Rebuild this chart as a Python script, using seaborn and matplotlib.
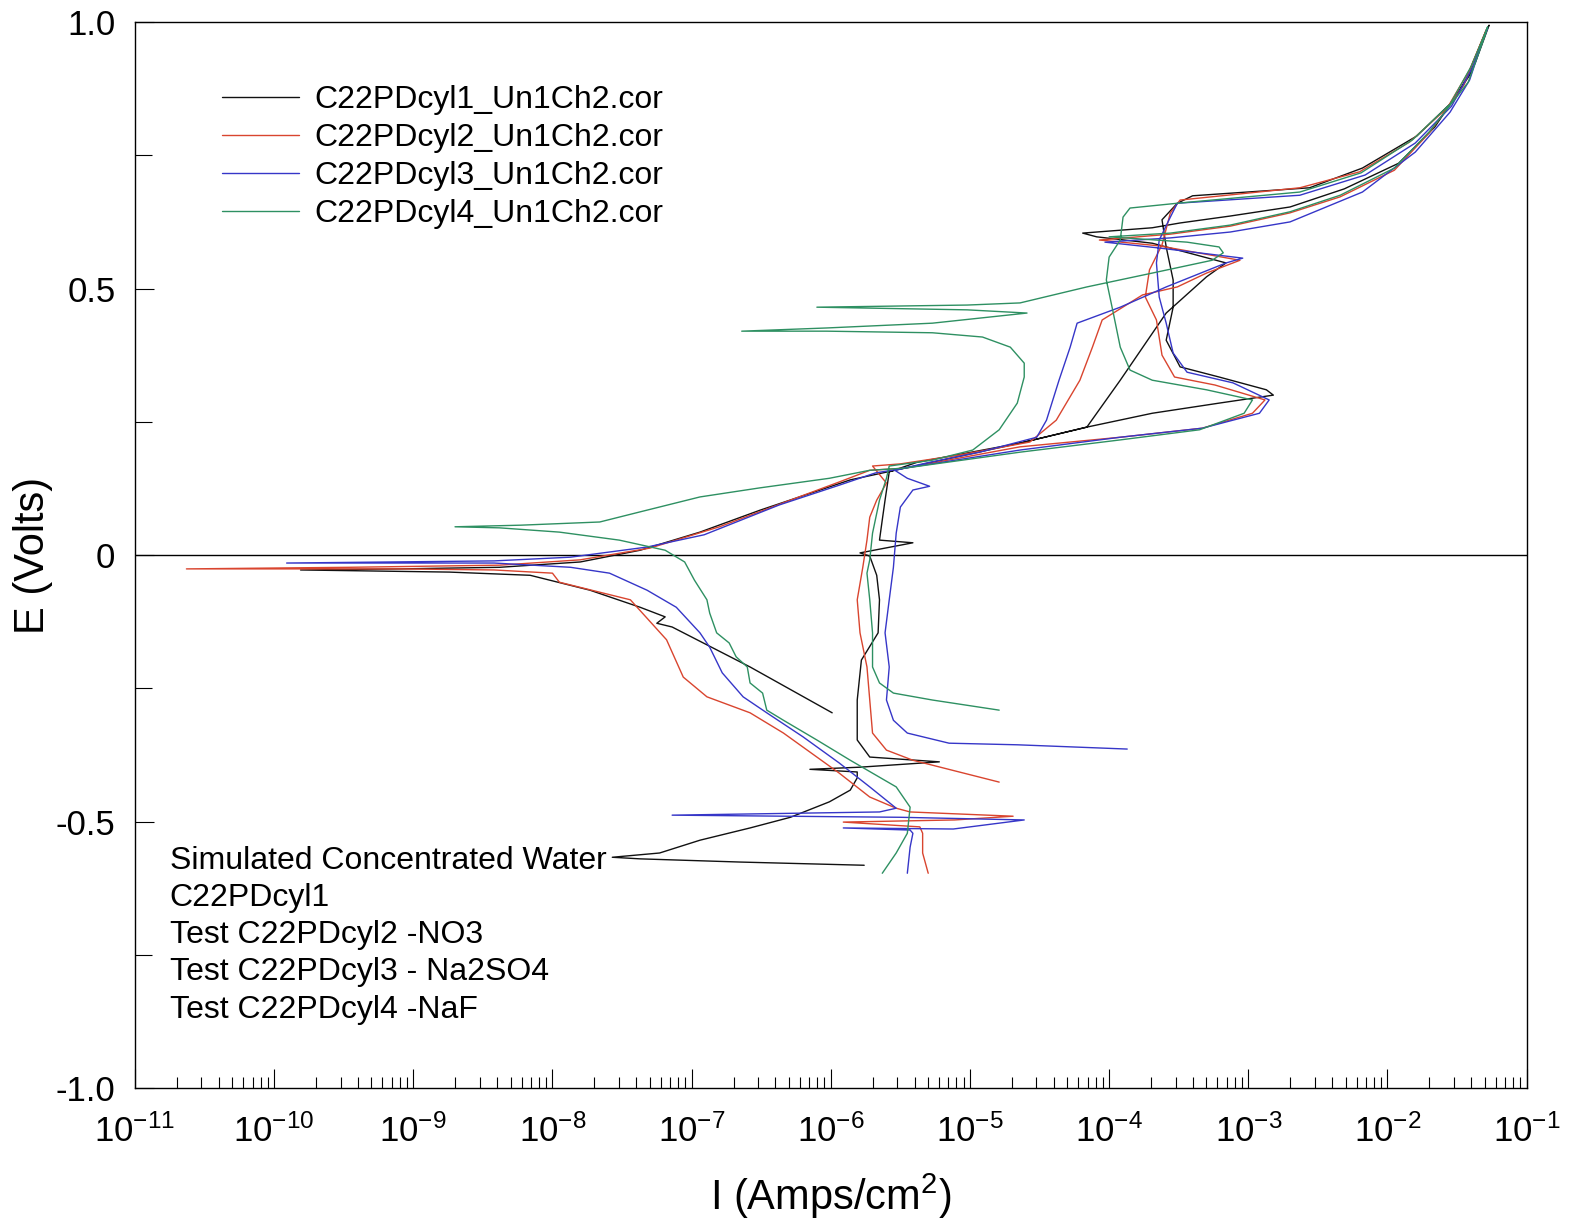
import numpy as np
import pandas as pd
import matplotlib
matplotlib.use("Agg")
import matplotlib.pyplot as plt
import seaborn as sns
from matplotlib.lines import Line2D
from matplotlib.ticker import LogLocator, NullFormatter

# cyclic polarisation scans, kept in scan order
# current as log10(I / A cm-2), potential E in volts
cyl1_logi = [-5.99, -6.58, -7.14, -7.25, -7.19, -7.37, -7.73, -8.16, -8.74, -9.81,
             -9.10, -8.38, -7.80, -7.37, -6.94, -6.51, -5.86, -5.36, -4.64, -4.16,
             -3.69, -3.21, -2.82, -2.87, -3.21, -3.49, -3.59, -3.54, -3.54, -3.59,
             -3.62, -3.51, -3.40, -2.56, -2.18, -1.79, -1.52, -1.37, -1.27,
             -1.29, -1.40, -1.66, -1.92, -2.31, -2.70, -3.13, -3.49, -3.69, -4.19,
             -4.09, -3.69, -3.16, -3.30, -3.59, -3.92, -4.16, -4.64, -5.38, -5.58,
             -5.61, -5.63, -5.65, -5.41, -5.79, -5.72, -5.67, -5.65, -5.66, -5.78,
             -5.81, -5.81, -5.72, -5.22, -5.79, -6.15, -5.81, -5.81, -5.86, -6.01,
             -6.29, -6.58, -6.94, -7.23, -7.57, -7.37, -6.65, -5.76]
cyl1_e = [-0.296, -0.210, -0.135, -0.128, -0.116, -0.098, -0.066, -0.038, -0.032, -0.028,
          -0.026, -0.023, -0.013, 0.009, 0.043, 0.084, 0.141, 0.169, 0.210, 0.240,
          0.266, 0.285, 0.300, 0.310, 0.334, 0.353, 0.403, 0.465, 0.516, 0.578,
          0.629, 0.660, 0.674, 0.689, 0.726, 0.786, 0.854, 0.923, 0.994,
          0.985, 0.904, 0.803, 0.735, 0.687, 0.653, 0.636, 0.623, 0.614, 0.604,
          0.597, 0.585, 0.548, 0.522, 0.454, 0.328, 0.240, 0.210, 0.174, 0.156,
          0.103, 0.066, 0.028, 0.023, 0.004, -0.002, -0.038, -0.084, -0.146, -0.197,
          -0.272, -0.347, -0.379, -0.388, -0.398, -0.402, -0.407, -0.418, -0.441, -0.463,
          -0.492, -0.512, -0.535, -0.559, -0.567, -0.570, -0.576, -0.582]

cyl2_logi = [-5.30, -5.34, -5.34, -5.36, -5.91, -5.11, -4.69, -5.43, -5.53, -5.72,
             -5.94, -6.34, -6.58, -6.89, -7.06, -7.18, -7.44, -7.95, -8.00, -8.42,
             -9.10, -10.63, -9.46, -8.38, -7.80, -7.30, -6.80, -6.29, -5.94, -5.72,
             -5.47, -4.64, -3.92, -3.33, -2.97, -2.88, -3.24, -3.53, -3.62, -3.66,
             -3.74, -3.71, -3.62, -3.56, -3.49, -2.63, -2.20, -1.84, -1.57, -1.41, -1.29,
             -1.32, -1.45, -1.70, -1.95, -2.34, -2.70, -3.13, -3.56, -4.07, -3.64,
             -3.06, -3.30, -3.51, -3.76, -4.05, -4.12, -4.21, -4.38, -4.57, -5.07,
             -5.50, -5.70, -5.60, -5.67, -5.72, -5.74, -5.77, -5.81, -5.79, -5.74,
             -5.72, -5.70, -5.60, -5.41, -4.79]
cyl2_e = [-0.597, -0.559, -0.522, -0.510, -0.501, -0.497, -0.490, -0.482, -0.475, -0.454,
          -0.409, -0.334, -0.296, -0.266, -0.229, -0.159, -0.084, -0.051, -0.034, -0.028,
          -0.026, -0.026, -0.023, -0.019, -0.009, 0.013, 0.053, 0.103, 0.137, 0.159,
          0.163, 0.203, 0.221, 0.238, 0.266, 0.291, 0.319, 0.334, 0.375, 0.441,
          0.484, 0.535, 0.582, 0.642, 0.666, 0.689, 0.719, 0.775, 0.839, 0.910, 0.985,
          0.966, 0.882, 0.792, 0.722, 0.672, 0.642, 0.617, 0.602, 0.591, 0.580,
          0.553, 0.529, 0.503, 0.488, 0.441, 0.390, 0.328, 0.253, 0.212, 0.188,
          0.171, 0.167, 0.135, 0.103, 0.071, 0.028, -0.023, -0.084, -0.146, -0.210,
          -0.272, -0.334, -0.366, -0.385, -0.426]

cyl3_logi = [-5.45, -5.43, -5.41, -5.43, -5.91, -5.12, -4.61, -5.50, -7.14, -5.65,
             -5.53, -5.72, -5.94, -6.20, -6.46, -6.63, -6.78, -6.87, -6.94, -7.11,
             -7.32, -7.59, -7.87, -8.42, -9.91, -8.42, -7.87, -7.32, -6.91, -6.37,
             -5.94, -5.68, -5.47, -4.64, -3.92, -3.33, -2.92, -2.85, -3.11, -3.44,
             -3.54, -3.59, -3.64, -3.66, -3.64, -3.56, -3.51, -2.63, -2.16, -1.80,
             -1.54, -1.39, -1.28,
             -1.31, -1.41, -1.55, -1.80, -2.18, -2.70, -3.13, -3.56, -4.03, -3.64,
             -3.04, -3.16, -3.59, -3.92, -4.23, -4.28, -4.36, -4.45, -4.52, -4.93,
             -5.29, -5.54, -5.45, -5.29, -5.41, -5.50, -5.53, -5.55, -5.58, -5.61,
             -5.58, -5.60, -5.55, -5.45, -5.15, -4.66, -3.87]
cyl3_e = [-0.597, -0.548, -0.522, -0.516, -0.512, -0.514, -0.497, -0.492, -0.488, -0.482,
          -0.475, -0.435, -0.390, -0.341, -0.296, -0.266, -0.221, -0.173, -0.146, -0.098,
          -0.066, -0.034, -0.023, -0.015, -0.015, -0.011, -0.004, 0.015, 0.038, 0.094,
          0.131, 0.154, 0.163, 0.197, 0.221, 0.238, 0.266, 0.291, 0.323, 0.343,
          0.379, 0.435, 0.484, 0.548, 0.591, 0.634, 0.660, 0.675, 0.713, 0.773,
          0.842, 0.914, 0.989,
          0.970, 0.891, 0.831, 0.756, 0.681, 0.625, 0.606, 0.595, 0.587, 0.576,
          0.557, 0.548, 0.503, 0.465, 0.435, 0.390, 0.328, 0.253, 0.221, 0.193,
          0.174, 0.159, 0.144, 0.129, 0.122, 0.090, 0.041, -0.023, -0.084, -0.146,
          -0.210, -0.272, -0.310, -0.334, -0.353, -0.356, -0.364]

cyl4_logi = [-5.63, -5.53, -5.45, -5.43, -5.53, -5.86, -6.10, -6.34, -6.46, -6.49,
             -6.58, -6.60, -6.68, -6.73, -6.82, -6.87, -6.89, -6.98, -7.05, -7.19,
             -7.52, -7.95, -8.38, -8.70, -8.23, -7.66, -7.37, -6.94, -6.51, -6.01,
             -5.72, -5.47, -4.64, -3.92, -3.35, -3.03, -2.97, -3.30, -3.69, -3.85,
             -3.92, -3.97, -4.02, -4.00, -3.92, -3.90, -3.85, -3.51, -2.63, -2.19,
             -1.82, -1.55, -1.40, -1.28,
             -1.30, -1.42, -1.70, -1.95, -2.34, -2.70, -3.13, -3.56, -4.00, -3.44,
             -3.21, -3.18, -3.26, -3.69, -4.16, -4.64, -5.02, -6.10, -5.02, -4.59,
             -5.27, -6.03, -6.64, -6.03, -5.27, -4.91, -4.71, -4.61, -4.61, -4.66,
             -4.79, -4.98, -5.27, -5.58, -5.60, -5.65, -5.70, -5.72, -5.74, -5.72,
             -5.70, -5.70, -5.65, -5.55, -5.27, -4.79]
cyl4_e = [-0.597, -0.559, -0.522, -0.473, -0.435, -0.385, -0.347, -0.310, -0.291, -0.259,
          -0.240, -0.210, -0.191, -0.165, -0.146, -0.109, -0.084, -0.047, -0.013, 0.009,
          0.028, 0.043, 0.051, 0.053, 0.056, 0.062, 0.081, 0.109, 0.126, 0.144,
          0.159, 0.163, 0.193, 0.216, 0.235, 0.266, 0.291, 0.310, 0.328, 0.347,
          0.390, 0.454, 0.516, 0.559, 0.591, 0.634, 0.651, 0.660, 0.681, 0.717,
          0.779, 0.846, 0.916, 0.991,
          0.974, 0.887, 0.794, 0.726, 0.675, 0.644, 0.619, 0.604, 0.597, 0.587,
          0.578, 0.567, 0.553, 0.529, 0.503, 0.473, 0.469, 0.465, 0.460, 0.454,
          0.435, 0.426, 0.420, 0.420, 0.417, 0.409, 0.390, 0.360, 0.334, 0.285,
          0.235, 0.197, 0.178, 0.167, 0.144, 0.103, 0.041, -0.009, -0.034, -0.084,
          -0.146, -0.210, -0.240, -0.259, -0.272, -0.291]

run_names = ["C22PDcyl1_Un1Ch2.cor", "C22PDcyl2_Un1Ch2.cor",
             "C22PDcyl3_Un1Ch2.cor", "C22PDcyl4_Un1Ch2.cor"]
run_colors = ["#111111", "#d9452f", "#3636c8", "#2e9062"]

note_lines = ["Simulated Concentrated Water", "C22PDcyl1", "Test C22PDcyl2 -NO3",
              "Test C22PDcyl3 - Na2SO4", "Test C22PDcyl4 -NaF"]

y_ticks = [-1.0, -0.5, 0.0, 0.5, 1.0]
y_tick_labels = ["-1.0", "-0.5", "0", "0.5", "1.0"]


def build_frame():
    parts = []
    runs = [(cyl1_logi, cyl1_e), (cyl2_logi, cyl2_e), (cyl3_logi, cyl3_e), (cyl4_logi, cyl4_e)]
    for name, (logi, e) in zip(run_names, runs):
        parts.append(pd.DataFrame({"I": 10.0 ** np.array(logi), "E": e, "run": name}))
    return pd.concat(parts, ignore_index=True)


df = build_frame()

sns.set_theme(style="ticks")
plt.rcParams["font.family"] = ["Liberation Sans", "DejaVu Sans"]
plt.rcParams["mathtext.fontset"] = "custom"
plt.rcParams["mathtext.rm"] = "Liberation Sans"
plt.rcParams["mathtext.it"] = "Liberation Sans:italic"
plt.rcParams["mathtext.bf"] = "Liberation Sans:bold"
plt.rcParams["text.color"] = "black"
plt.rcParams["axes.labelcolor"] = "black"
plt.rcParams["xtick.color"] = "black"
plt.rcParams["ytick.color"] = "black"

fig = plt.figure(figsize=(15.69, 12.30), dpi=100)
ax = fig.add_axes([0.086, 0.1154, 0.887, 0.8667])
ax.set_xscale("log")

sns.lineplot(data=df, x="I", y="E", hue="run", palette=run_colors, hue_order=run_names,
             sort=False, estimator=None, linewidth=1.0, legend=False, ax=ax)
ax.axhline(0, color="black", linewidth=1.0, zorder=1)

ax.set_xlim(1e-11, 1e-1)
ax.set_ylim(-1.0, 1.0)

ax.xaxis.set_major_locator(LogLocator(base=10, numticks=15))
ax.xaxis.set_minor_locator(LogLocator(base=10, subs=np.arange(2, 10), numticks=150))
ax.xaxis.set_minor_formatter(NullFormatter())
ax.set_yticks(y_ticks, labels=y_tick_labels)
ax.set_yticks([-0.75, -0.25, 0.25, 0.75], minor=True)

ax.tick_params(axis="both", which="both", direction="in", top=False, right=False,
               width=0.8, colors="black")
ax.tick_params(axis="x", which="major", length=14, pad=19, labelsize=25)
ax.tick_params(axis="x", which="minor", length=8)
ax.tick_params(axis="y", which="major", length=14, pad=14, labelsize=25)
ax.tick_params(axis="y", which="minor", length=12)

for side in ax.spines.values():
    side.set_color("black")
    side.set_linewidth(1.0)

ax.set_xlabel("I (Amps/cm$^2$)", fontsize=30, labelpad=16)
ax.set_ylabel("E (Volts)", fontsize=30, labelpad=2)

handles = [Line2D([], [], color=c, linewidth=1.0) for c in run_colors]
ax.legend(handles, run_names, loc="upper left", bbox_to_anchor=(0.0625, 0.941),
          frameon=False, fontsize=23, handlelength=2.4, handletextpad=0.5,
          labelspacing=0.25, borderpad=0, borderaxespad=0)

ax.text(0.025, 0.227, "\n".join(note_lines), transform=ax.transAxes, fontsize=23,
        va="top", ha="left", linespacing=1.31)

fig.savefig("out.png", dpi=100)
